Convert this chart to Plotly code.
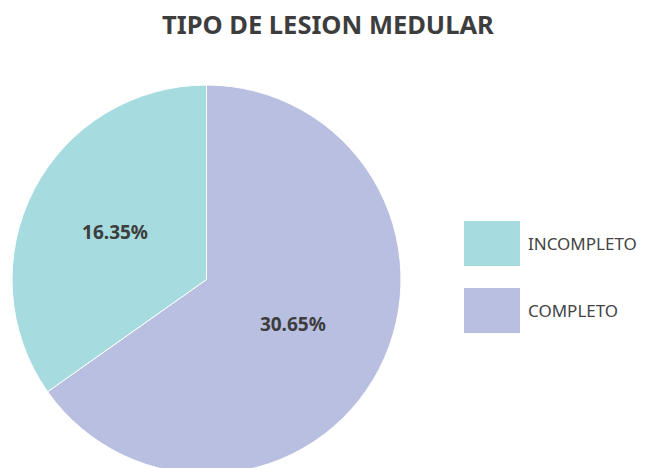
import plotly.graph_objects as go

categories = ["INCOMPLETO", "COMPLETO"]
values = [16.35, 30.65]
colors = ["#A6DCDF", "#B9BFE0"]
title_text = "TIPO DE LESION MEDULAR"

W, H = 652, 468
OFF = 8  # page body margin offset


def px(x):
    return (x - OFF) / W


def py(y):
    return 1 - (y - OFF) / H


FONT = "Source Sans Pro, Noto Sans, sans-serif"

# slices drawn clockwise from 12 o'clock in reverse order, so INCOMPLETO sits left of 12
fig = go.Figure(go.Pie(
    labels=categories[::-1],
    values=values[::-1],
    marker=dict(colors=colors[::-1], line=dict(color="#ffffff", width=1)),
    sort=False,
    direction="clockwise",
    rotation=0,
    texttemplate="%{value:.2f}%",
    textposition="inside",
    insidetextorientation="horizontal",
    textfont=dict(family=FONT, size=19, color="#3d3d3d", weight="bold"),
    domain=dict(x=[px(12), px(401)], y=[0, py(83)]),
    showlegend=False,
    hoverinfo="label+value",
))

# legend swatches
tops = [221, 288]
for cat, col, top in zip(categories, colors, tops):
    y_top = py(top)
    y_bot = py(top + 45)
    fig.add_shape(type="rect", xref="paper", yref="paper", x0=px(464), x1=px(520),
                  y0=y_bot, y1=y_top, fillcolor=col, line=dict(width=0))
    fig.add_annotation(xref="paper", yref="paper", x=px(526), y=(y_top + y_bot) / 2,
                       text=cat, showarrow=False, xanchor="left", yanchor="middle",
                       font=dict(family=FONT, size=17, color="#444444"))

# title
fig.add_annotation(xref="paper", yref="paper", x=px(328), y=py(24.5),
                   text="<b>" + title_text + "</b>", showarrow=False,
                   xanchor="center", yanchor="middle",
                   font=dict(family=FONT, size=25.5, color="#3d3d3d"))

fig.update_layout(
    width=W, height=H,
    margin=dict(l=0, r=0, t=0, b=0),
    paper_bgcolor="#ffffff",
    plot_bgcolor="#ffffff",
)

fig.write_html("out.html")
